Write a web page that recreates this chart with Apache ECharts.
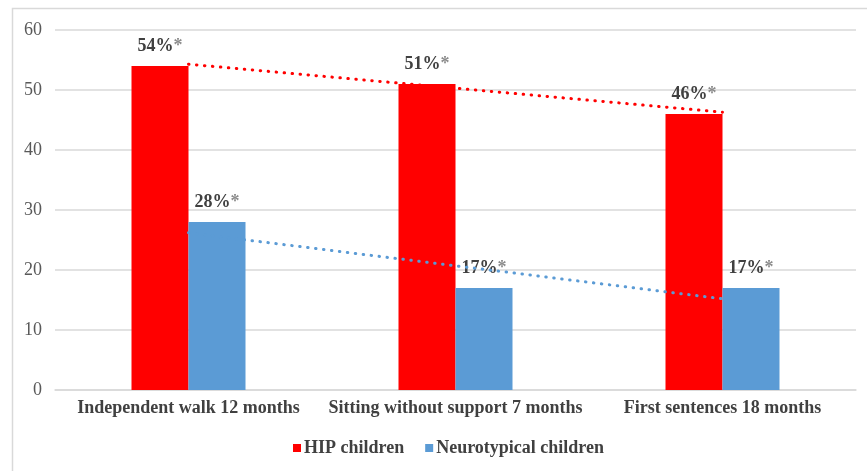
<!DOCTYPE html>
<html>
<head>
<meta charset="utf-8">
<script src="https://cdn.jsdelivr.net/npm/echarts@6/dist/echarts.min.js"></script>
<style>
  html, body { margin: 0; padding: 0; background: #fff; }
  #chart { width: 867px; height: 471px; }
</style>
</head>
<body>
<div id="chart"></div>
<script>
// Milestone categories
const categories = ['Independent walk 12 months', 'Sitting without support 7 months', 'First sentences 18 months'];
// Percent of children with delayed milestones
const hipValues = [54, 51, 46];
const neuroValues = [28, 17, 17];
// Linear trend lines, value at each category centre
const hipTrend = [54.3, 50.3, 46.3];
const neuroTrend = [26.2, 20.7, 15.2];
// Value axis ticks
const yMin = 0, yMax = 60, yStep = 10;

const serif = '"Liberation Serif", "Times New Roman", serif';
const RED = '#FF0000';
const BLUE = '#5B9BD5';

function pctLabel() {
  return {
    show: true,
    position: 'top',
    distance: 11,
    formatter: p => '{v|' + p.value + '%}{s|*}',
    rich: {
      v: { fontFamily: serif, fontSize: 18, fontWeight: 'bold', color: '#404040' },
      s: { fontFamily: serif, fontSize: 18, fontWeight: 'bold', color: '#8c8c8c' }
    }
  };
}

const dotted = color => ({ color: color, width: 3, type: [0.5, 7.5], cap: 'round' });

const chart = echarts.init(document.getElementById('chart'), null, { renderer: 'canvas' });
chart.setOption({
  animation: false,
  backgroundColor: '#fff',
  graphic: [{
    type: 'rect',
    shape: { x: 12.5, y: 8.5, width: 900, height: 500 },
    style: { fill: 'none', stroke: '#d9d9d9', lineWidth: 1.5 },
    silent: true, z: -1
  }],
  grid: { left: 55, right: 11, top: 30, bottom: 81, containLabel: false },
  legend: {
    data: ['HIP children', 'Neurotypical children'],
    left: 288, top: 434,
    itemWidth: 8, itemHeight: 8, itemGap: 21,
    icon: 'rect',
    textStyle: { fontFamily: serif, fontSize: 18, fontWeight: 'bold', color: '#404040', padding: [0, 0, 0, -2] }
  },
  xAxis: {
    type: 'category',
    data: categories,
    axisLine: { show: true, lineStyle: { color: '#d9d9d9', width: 1.5 } },
    axisTick: { show: false },
    axisLabel: { fontFamily: serif, fontSize: 18, fontWeight: 'bold', color: '#404040', margin: 9, interval: 0 }
  },
  yAxis: {
    type: 'value',
    min: yMin, max: yMax, interval: yStep,
    axisLine: { show: false },
    axisTick: { show: false },
    splitLine: { lineStyle: { color: '#d9d9d9', width: 1.5 } },
    axisLabel: { fontFamily: serif, fontSize: 18, color: '#595959', margin: 13 }
  },
  series: [
    {
      name: 'HIP children', type: 'bar', data: hipValues,
      barWidth: 57, barGap: '0%',
      itemStyle: { color: RED },
      label: pctLabel(), z: 2
    },
    {
      name: 'Neurotypical trend', type: 'line', data: neuroTrend,
      symbol: 'none', lineStyle: dotted(BLUE), z: 2, silent: true
    },
    {
      name: 'Neurotypical children', type: 'bar', data: neuroValues,
      barWidth: 57, barGap: '0%',
      itemStyle: { color: BLUE },
      label: pctLabel(), z: 2
    },
    {
      name: 'HIP trend', type: 'line', data: hipTrend,
      symbol: 'none', lineStyle: dotted(RED), z: 2, silent: true
    }
  ]
});
</script>
</body>
</html>
